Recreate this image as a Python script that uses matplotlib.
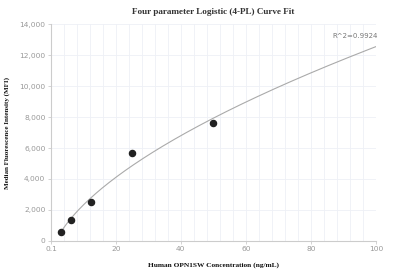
import matplotlib.pyplot as plt
import numpy as np

# Standards (ng/mL) and measured MFI
conc = [3.125, 6.25, 12.5, 25, 50]
mfi = [600, 1350, 2500, 5650, 7600]

# 4-PL parameters
a, b, c, d = -1180.0, 0.6, 1.0e5, 878820.0
r2_text = "R^2=0.9924"

x_ticks = [0.1, 20, 40, 60, 80, 100]
x_tick_labels = ["0.1", "20", "40", "60", "80", "100"]
y_ticks = [0, 2000, 4000, 6000, 8000, 10000, 12000, 14000]


def four_pl(x):
    return d + (a - d) / (1 + (x / c) ** b)


fig = plt.figure(figsize=(3.95, 2.71), dpi=100)
ax = fig.add_axes([0.129, 0.111, 0.823, 0.80])

# grid: light vertical minor lines every 4 units, horizontal at major ticks
for gx in np.arange(4, 100, 4):
    ax.axvline(gx, color="#eef0f6", lw=0.6, zorder=0)
for gy in y_ticks[1:]:
    ax.axhline(gy, color="#eef0f6", lw=0.6, zorder=0)

xs = np.linspace(conc[0], 100, 300)
ax.plot(xs, four_pl(xs), color="#aaaaaa", lw=0.8, zorder=2)
ax.plot(conc, mfi, "o", color="#222222", ms=4.4, zorder=3)

ax.set_xlim(0.1, 100)
ax.set_ylim(0, 14000)
ax.set_xticks(x_ticks)
ax.set_xticklabels(x_tick_labels)
ax.set_yticks(y_ticks)
ax.set_yticklabels([f"{v:,}" for v in y_ticks])

for side in ["top", "right"]:
    ax.spines[side].set_visible(False)
for side in ["left", "bottom"]:
    ax.spines[side].set_color("#cccccc")
    ax.spines[side].set_linewidth(0.8)
ax.tick_params(colors="#cccccc", labelcolor="#999999", labelsize=5.4, length=2.5, width=0.6, pad=1.5)

serif = "Liberation Serif"
ax.set_title("Four parameter Logistic (4-PL) Curve Fit", fontsize=6.6, fontweight="bold",
             family=serif, color="#333333", pad=7)
ax.set_xlabel("Human OPN1SW Concentration (ng/mL)", fontsize=5.3, fontweight="bold",
              family=serif, color="#111111", labelpad=7)
ax.set_ylabel("Median Fluorescence Intensity (MFI)", fontsize=5.0, fontweight="bold",
              family=serif, color="#111111", labelpad=7)

ax.text(100.5, 13050, r2_text, ha="right", va="bottom", fontsize=5, color="#777777")

fig.savefig("out.png", dpi=100)
